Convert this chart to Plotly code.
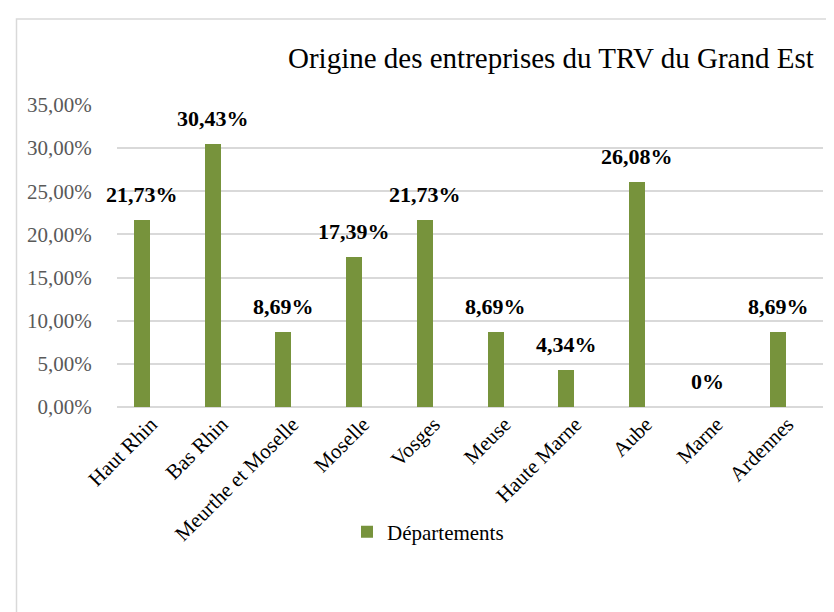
import plotly.graph_objects as go

categories = ["Haut Rhin", "Bas Rhin", "Meurthe et Moselle", "Moselle", "Vosges",
              "Meuse", "Haute Marne", "Aube", "Marne", "Ardennes"]
values = [21.73, 30.43, 8.69, 17.39, 21.73, 8.69, 4.34, 26.08, 0, 8.69]
value_labels = ["21,73%", "30,43%", "8,69%", "17,39%", "21,73%",
                "8,69%", "4,34%", "26,08%", "0%", "8,69%"]
y_ticks = [0, 5, 10, 15, 20, 25, 30, 35]
y_tick_labels = ["0,00%", "5,00%", "10,00%", "15,00%", "20,00%", "25,00%", "30,00%", "35,00%"]
series_name = "Départements"
title_text = "Origine des entreprises du TRV du Grand Est"

W, H = 834, 612
L, R, T, B = 109, 19, 97, 213
pw = W - L - R
ph = H - T - B

def px_x(p):
    return (p - L) / pw

def px_y(p):
    return (H - B - p) / ph

FONT = "Liberation Serif"
GREEN = "#77933C"
GRID = "#D9D9D9"

fig = go.Figure()
fig.add_trace(go.Bar(
    x=categories, y=values, name=series_name,
    marker=dict(color=GREEN, line=dict(width=0)),
    width=0.226, showlegend=True,
))

for c, v, t in zip(categories, values, value_labels):
    fig.add_annotation(x=c, y=v, text="<b>" + t + "</b>", showarrow=False,
                       xref="x", yref="y", yanchor="bottom", yshift=11,
                       font=dict(family=FONT, size=22, color="#000000"))

fig.add_annotation(x=px_x(808), y=px_y(50), xref="paper", yref="paper",
                   xanchor="right", yanchor="middle", text=title_text,
                   showarrow=False, font=dict(family=FONT, size=29, color="#000000"))

fig.add_shape(type="rect", xref="paper", yref="paper",
              x0=px_x(8.5), x1=px_x(900), y0=px_y(700), y1=px_y(11),
              line=dict(color=GRID, width=1.5), fillcolor="rgba(0,0,0,0)", layer="below")

fig.update_layout(
    width=W, height=H,
    margin=dict(l=L, r=R, t=T, b=B, pad=0),
    paper_bgcolor="white", plot_bgcolor="white",
    font=dict(family=FONT, size=21, color="#000000"),
    bargap=0,
    xaxis=dict(type="category", range=[-0.354, 9.63], tickangle=-45,
               showgrid=False, showline=False, zeroline=False, ticks="",
               ticklabelshift=9,
               tickfont=dict(family=FONT, size=21, color="#000000")),
    yaxis=dict(range=[0, 35], tickvals=y_ticks, ticktext=y_tick_labels,
               showgrid=True, gridcolor=GRID, gridwidth=1.5,
               zeroline=True, zerolinecolor=GRID, zerolinewidth=1.5,
               showline=False, ticks="outside", ticklen=20, tickcolor="rgba(0,0,0,0)",
               tickfont=dict(family=FONT, size=21, color="#595959")),
    legend=dict(orientation="h", x=px_x(339), y=px_y(524), xanchor="left", yanchor="middle",
                font=dict(family=FONT, size=21, color="#000000"),
                bgcolor="rgba(0,0,0,0)"),
)

fig.write_html("out.html")
